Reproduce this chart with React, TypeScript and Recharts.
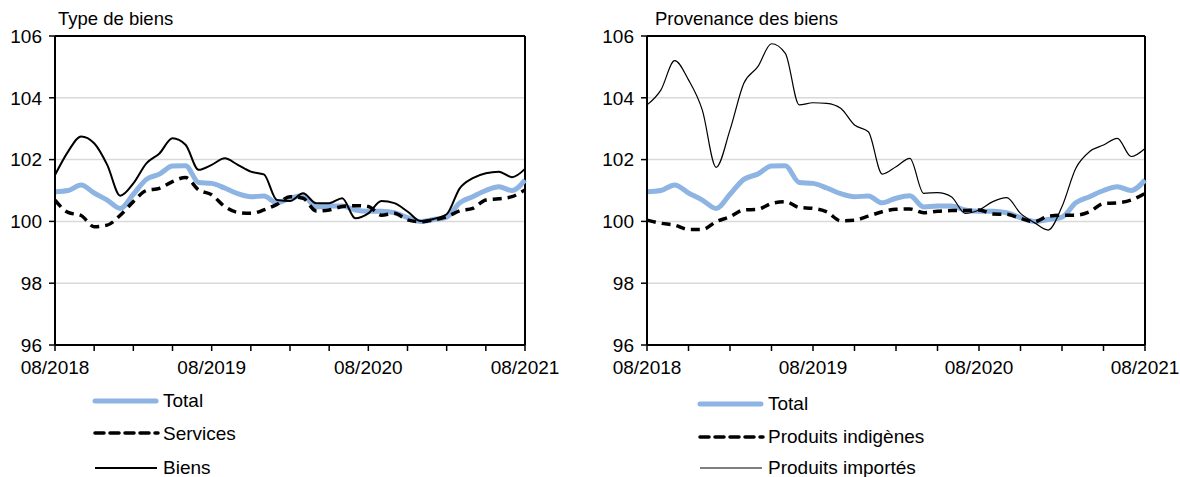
import React from "react";
import { LineChart, Line, XAxis, YAxis, CartesianGrid, ReferenceLine } from "recharts";

const months = [
  "08/2018","09/2018","10/2018","11/2018","12/2018","01/2019","02/2019","03/2019","04/2019","05/2019","06/2019","07/2019",
  "08/2019","09/2019","10/2019","11/2019","12/2019","01/2020","02/2020","03/2020","04/2020","05/2020","06/2020","07/2020",
  "08/2020","09/2020","10/2020","11/2020","12/2020","01/2021","02/2021","03/2021","04/2021","05/2021","06/2021","07/2021",
  "08/2021",
];

const total = [
  100.96, 101.0, 101.18, 100.92, 100.69, 100.42, 100.88, 101.36, 101.53, 101.79, 101.8, 101.26,
  101.23, 101.08, 100.9, 100.8, 100.82, 100.6, 100.75, 100.83, 100.47, 100.5, 100.5, 100.37,
  100.33, 100.33, 100.28, 100.12, 100.0, 100.06, 100.14, 100.6, 100.8, 101.0, 101.12, 101.0,
  101.34,
];

const services = [
  100.69, 100.29, 100.19, 99.83, 99.88, 100.2, 100.64, 101.0, 101.07, 101.29, 101.42, 101.02,
  100.86, 100.48, 100.29, 100.26, 100.37, 100.55, 100.8, 100.75, 100.34, 100.37, 100.48, 100.51,
  100.48, 100.2, 100.26, 100.05, 99.99, 100.05, 100.15, 100.34, 100.42, 100.69, 100.73, 100.8,
  101.02,
];

const biens = [
  101.5, 102.26, 102.75, 102.53, 101.83, 100.83, 101.23, 101.88, 102.2, 102.69, 102.48, 101.67,
  101.83, 102.04, 101.83, 101.61, 101.52, 100.69, 100.66, 100.91, 100.59, 100.59, 100.75, 100.1,
  100.26, 100.66, 100.59, 100.32, 100.01, 100.08, 100.23, 101.07, 101.4, 101.56, 101.61, 101.43,
  101.7,
];

const indigenes = [
  100.04, 99.94, 99.88, 99.74, 99.74, 99.99, 100.15, 100.37, 100.39, 100.58, 100.64, 100.45,
  100.42, 100.31, 100.02, 100.04, 100.17, 100.31, 100.39, 100.4, 100.28, 100.33, 100.35, 100.35,
  100.37, 100.24, 100.23, 100.1, 99.99, 100.17, 100.2, 100.2, 100.31, 100.58, 100.6, 100.69,
  100.91,
];

const importes = [
  103.77, 104.25, 105.2, 104.58, 103.6, 101.75, 102.96, 104.47, 105.0, 105.75, 105.44, 103.77,
  103.84, 103.82, 103.66, 103.12, 102.9, 101.53, 101.77, 102.04, 100.91, 100.93, 100.8, 100.26,
  100.37, 100.64, 100.77, 100.26, 99.96, 99.72, 100.48, 101.72, 102.26, 102.47, 102.69, 102.1,
  102.36,
];

const yTicks = [96, 98, 100, 102, 104, 106];
const xTickLabels = ["08/2018", "08/2019", "08/2020", "08/2021"];

const data = months.map((m, i) => ({
  i,
  month: m,
  total: total[i],
  services: services[i],
  biens: biens[i],
  indigenes: indigenes[i],
  importes: importes[i],
}));

const xTicks = months.map((_, i) => i).filter((i) => i % 3 === 0);
const fmtX = (v: number) => {
  const m = months[v];
  return xTickLabels.includes(m) ? m : "";
};

const FONT = "'Liberation Sans', Arial, sans-serif";
const BLUE = "#8db4e2";
const tickStyle = { fill: "#000", fontSize: 19, fontFamily: FONT };

function Panel({ left, width, yw, right, second }: { left: number; width: number; yw: number; right: number; second: boolean }) {
  return (
    <div style={{ position: "absolute", left, top: 0 }}>
      <LineChart width={width} height={380} data={data} margin={{ top: 36, right, left: 0, bottom: 0 }}>
        <CartesianGrid vertical={false} stroke="#d9d9d9" strokeWidth={1.5} />
        <XAxis
          dataKey="i"
          type="number"
          domain={[0, 36]}
          ticks={xTicks}
          tickFormatter={fmtX}
          interval={0}
          height={35}
          axisLine={{ stroke: "#000", strokeWidth: 2 }}
          tickLine={{ stroke: "#000", strokeWidth: 1.5 }}
          tickSize={6}
          tick={{ ...tickStyle, dy: 8 }}
        />
        <YAxis
          type="number"
          domain={[96, 106]}
          ticks={yTicks}
          interval={0}
          width={yw}
          axisLine={{ stroke: "#000", strokeWidth: 2 }}
          tickLine={{ stroke: "#000", strokeWidth: 1.5 }}
          tickSize={6}
          tick={{ ...tickStyle, dx: -5 }}
        />
        <ReferenceLine y={106} stroke="#000" strokeWidth={2} />
        <ReferenceLine x={36} stroke="#000" strokeWidth={2} />
        <Line
          type="monotone"
          dataKey="total"
          stroke={BLUE}
          strokeWidth={5}
          dot={false}
          isAnimationActive={false}
        />
        <Line
          type="monotone"
          dataKey={second ? "indigenes" : "services"}
          stroke="#000"
          strokeWidth={3.5}
          strokeDasharray="9 6"
          dot={false}
          isAnimationActive={false}
        />
        <Line
          type="monotone"
          dataKey={second ? "importes" : "biens"}
          stroke="#000"
          strokeWidth={second ? 1.2 : 2}
          dot={false}
          isAnimationActive={false}
        />
      </LineChart>
    </div>
  );
}

export default function App() {
  return (
    <div style={{ position: "absolute", left: 0, top: 0, width: 1180, height: 477, background: "#fff", fontFamily: FONT }}>
      <Panel left={0} width={575} yw={55} right={50} second={false} />
      <Panel left={590} width={590} yw={57} right={35} second={true} />
      <svg width={1180} height={477} style={{ position: "absolute", left: 0, top: 0, pointerEvents: "none" }}>
        <g fontFamily={FONT} fill="#000">
          <text x={58} y={25} fontSize={18.5}>Type de biens</text>
          <text x={655} y={25} fontSize={18.5}>Provenance des biens</text>

          <line x1={95} y1={401} x2={156} y2={401} stroke={BLUE} strokeWidth={5} strokeLinecap="round" />
          <text x={163} y={407} fontSize={19}>Total</text>
          <line x1={95} y1={433} x2={158} y2={433} stroke="#000" strokeWidth={3.5} strokeDasharray="9 6" strokeLinecap="round" />
          <text x={163} y={440} fontSize={19}>Services</text>
          <line x1={95} y1={468} x2={157} y2={468} stroke="#000" strokeWidth={2} />
          <text x={163} y={474} fontSize={19}>Biens</text>

          <line x1={700} y1={404} x2={761} y2={404} stroke={BLUE} strokeWidth={5} strokeLinecap="round" />
          <text x={768} y={410} fontSize={19}>Total</text>
          <line x1={700} y1={437} x2={763} y2={437} stroke="#000" strokeWidth={3.5} strokeDasharray="9 6" strokeLinecap="round" />
          <text x={768} y={443} fontSize={19}>Produits indigènes</text>
          <line x1={700} y1={468} x2={762} y2={468} stroke="#000" strokeWidth={1.2} />
          <text x={768} y={474} fontSize={19}>Produits importés</text>
        </g>
      </svg>
    </div>
  );
}
